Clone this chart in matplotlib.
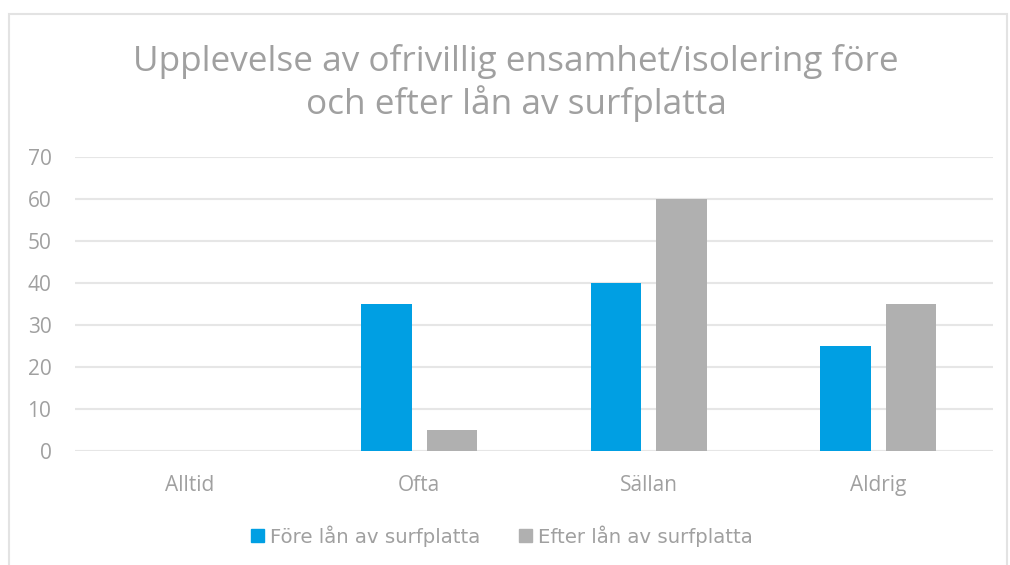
import matplotlib
matplotlib.use('Agg')
import matplotlib.pyplot as plt
from matplotlib.patches import Patch, Rectangle

categories = ['Alltid', 'Ofta', 'Sällan', 'Aldrig']
fore = [0, 35, 40, 25]
efter = [0, 5, 60, 35]
series_names = ['Före lån av surfplatta', 'Efter lån av surfplatta']
title = 'Upplevelse av ofrivillig ensamhet/isolering före\noch efter lån av surfplatta'

blue = '#009FE3'
grey = '#B0B0B0'
text_grey = '#A0A0A0'

fig = plt.figure(figsize=(10.1, 5.65), dpi=100)
ax = fig.add_axes([75 / 1010, 1 - 451 / 565, 918 / 1010, 294 / 565])

x = list(range(len(categories)))
width = 0.22
off = 0.143
ax.bar([i - off for i in x], fore, width, color=blue, zorder=3)
ax.bar([i + off for i in x], efter, width, color=grey, zorder=3)

ax.set_xlim(-0.5, 3.5)
ax.set_ylim(0, 70)
ax.set_yticks(range(0, 71, 10))
ax.set_xticks(x)
ax.set_xticklabels(categories)
ax.grid(axis='y', color='#E6E6E6', linewidth=1.5, zorder=0)
for s in ax.spines.values():
    s.set_visible(False)
ax.tick_params(axis='both', length=0, colors=text_grey, labelsize=15)
ax.tick_params(axis='y', pad=17)
ax.tick_params(axis='x', pad=17)
for lab in ax.get_xticklabels() + ax.get_yticklabels():
    lab.set_family('Open Sans')

fig.text(0.511, 1 - 83 / 565, title, ha='center', va='center', fontsize=25.3,
         color=text_grey, family='Open Sans', linespacing=1.2)

handles = [Patch(color=blue), Patch(color=grey)]
fig.legend(handles, series_names, loc='center', bbox_to_anchor=(0.497, 1 - 536 / 565),
           ncol=2, frameon=False, fontsize=14.2, handlelength=0.66, handleheight=0.66,
           handletextpad=0.3, columnspacing=2.0, labelcolor=text_grey)

fig.patches.append(Rectangle((9 / 1010, -0.05), 998 / 1010, 1.05 - 14 / 565,
                             transform=fig.transFigure, fill=False,
                             edgecolor='#E3E3E3', linewidth=1.5))

fig.savefig('out.png', dpi=100)
